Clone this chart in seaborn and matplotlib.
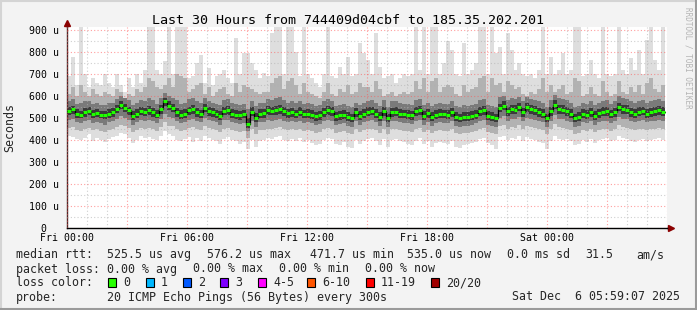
import numpy as np
import pandas as pd
import matplotlib
matplotlib.use("Agg")
import matplotlib.pyplot as plt
import seaborn as sns
from matplotlib.patches import Rectangle
from matplotlib.lines import Line2D
from matplotlib.ticker import MultipleLocator, FuncFormatter

# ---------------- data (microseconds) ----------------
median = [
    530, 540, 520, 515, 525, 530, 518, 522, 515, 512, 520, 525, 540, 560, 545, 535, 510, 520, 530, 528, 535, 525, 515, 540, 576,
    555, 545, 525, 515, 520, 535, 540, 525, 520, 545, 530, 525, 520, 510, 532, 535, 520, 515, 512, 518, 472, 528, 500, 520, 522,
    535, 530, 535, 540, 530, 522, 525, 520, 528, 518, 520, 515, 508, 512, 525, 535, 530, 508, 512, 515, 505, 500, 525, 510, 520,
    528, 532, 520, 505, 530, 500, 525, 528, 520, 518, 515, 512, 530, 536, 510, 522, 505, 515, 520, 518, 515, 525, 505, 500, 505,
    505, 510, 515, 530, 535, 510, 505, 500, 545, 555, 530, 540, 538, 550, 525, 548, 540, 535, 525, 520, 500, 530, 560, 540, 538,
    530, 520, 500, 505, 520, 515, 525, 510, 522, 528, 530, 518, 525, 552, 540, 538, 525, 520, 528, 532, 520, 525, 530, 535, 528,
]
ping_max = [
    690, 777, 650, 913, 700, 640, 682, 660, 650, 700, 660, 640, 700, 650, 620, 680, 640, 700, 660, 720, 913, 913, 718, 700, 760,
    913, 700, 913, 913, 913, 680, 690, 750, 786, 660, 727, 650, 690, 700, 718, 680, 660, 863, 700, 795, 795, 750, 720, 680, 705,
    690, 886, 913, 913, 700, 913, 913, 800, 690, 913, 700, 680, 660, 640, 700, 913, 690, 680, 732, 700, 777, 690, 700, 840, 795,
    764, 700, 886, 732, 680, 690, 700, 660, 680, 700, 690, 700, 913, 720, 913, 700, 913, 913, 700, 750, 850, 809, 700, 690, 840,
    700, 720, 750, 913, 913, 700, 913, 795, 823, 700, 886, 809, 720, 750, 700, 690, 700, 680, 720, 913, 700, 777, 700, 720, 795,
    700, 720, 913, 913, 690, 700, 764, 700, 680, 913, 700, 690, 700, 913, 720, 700, 773, 720, 809, 700, 855, 913, 764, 720, 913,
]
ping_p90 = [
    610, 640, 600, 650, 620, 600, 630, 610, 600, 620, 610, 600, 630, 620, 590, 610, 600, 630, 620, 640, 680, 670, 640, 630, 650,
    680, 640, 700, 690, 680, 620, 630, 650, 660, 610, 640, 600, 620, 630, 640, 610, 600, 660, 620, 650, 640, 630, 620, 610, 620,
    620, 660, 680, 690, 630, 670, 680, 650, 610, 660, 620, 610, 600, 590, 620, 660, 610, 600, 630, 620, 650, 610, 620, 660, 640,
    640, 620, 670, 630, 600, 610, 620, 600, 610, 620, 610, 620, 670, 630, 680, 620, 670, 680, 620, 640, 650, 640, 610, 600, 650,
    620, 630, 640, 680, 690, 620, 680, 650, 660, 620, 670, 650, 630, 640, 610, 600, 620, 610, 630, 680, 620, 650, 620, 630, 650,
    610, 620, 680, 670, 600, 610, 640, 610, 600, 670, 620, 600, 610, 670, 620, 610, 640, 620, 650, 610, 660, 680, 630, 620, 650,
]
ping_p75 = [
    575, 585, 565, 570, 575, 575, 565, 570, 560, 560, 570, 570, 585, 600, 590, 580, 560, 570, 580, 575, 590, 580, 565, 590, 615,
    600, 590, 580, 565, 570, 585, 590, 575, 570, 590, 575, 570, 565, 560, 580, 585, 570, 565, 560, 565, 540, 575, 555, 570, 570,
    585, 580, 590, 595, 580, 570, 575, 570, 575, 565, 570, 565, 555, 560, 575, 585, 575, 555, 560, 565, 555, 550, 570, 560, 570,
    575, 580, 570, 555, 580, 550, 575, 575, 570, 565, 565, 560, 580, 585, 560, 570, 555, 565, 570, 565, 565, 575, 555, 550, 560,
    555, 560, 565, 580, 585, 560, 555, 550, 595, 600, 580, 590, 585, 595, 575, 595, 585, 580, 575, 570, 550, 580, 605, 590, 585,
    580, 570, 550, 555, 570, 565, 575, 560, 570, 575, 580, 565, 575, 600, 590, 585, 575, 570, 575, 580, 570, 575, 580, 585, 575,
]
ping_p60 = [
    548, 555, 540, 532, 545, 548, 535, 540, 532, 530, 540, 545, 558, 578, 565, 552, 530, 540, 548, 545, 555, 545, 535, 560, 590,
    575, 562, 545, 535, 540, 552, 558, 545, 538, 562, 550, 545, 538, 530, 550, 555, 540, 535, 530, 538, 500, 548, 522, 540, 540,
    555, 550, 555, 560, 550, 540, 545, 538, 548, 538, 540, 535, 528, 530, 545, 555, 548, 528, 532, 535, 525, 520, 545, 530, 540,
    548, 552, 540, 525, 550, 520, 545, 548, 540, 538, 535, 532, 550, 555, 530, 542, 525, 535, 540, 538, 535, 545, 525, 520, 525,
    525, 530, 535, 550, 555, 530, 525, 520, 565, 575, 550, 560, 558, 570, 545, 568, 560, 555, 545, 540, 520, 550, 580, 560, 558,
    550, 540, 520, 525, 540, 535, 545, 530, 542, 548, 550, 538, 545, 570, 560, 558, 545, 540, 548, 552, 540, 545, 550, 555, 548,
]
ping_p40 = [
    512, 520, 502, 498, 505, 512, 500, 505, 498, 495, 502, 505, 522, 540, 525, 515, 492, 500, 512, 508, 515, 505, 498, 520, 555,
    535, 525, 505, 495, 500, 515, 520, 505, 500, 525, 510, 505, 500, 490, 512, 515, 500, 495, 492, 498, 455, 508, 482, 500, 502,
    515, 512, 515, 520, 510, 502, 505, 500, 508, 498, 500, 495, 488, 492, 505, 515, 510, 488, 492, 495, 485, 480, 505, 490, 500,
    508, 512, 500, 485, 510, 480, 505, 508, 500, 498, 495, 492, 510, 515, 490, 502, 485, 495, 500, 498, 495, 505, 485, 480, 485,
    485, 490, 495, 510, 515, 490, 485, 480, 525, 535, 510, 520, 518, 530, 505, 528, 520, 515, 505, 500, 480, 510, 540, 520, 518,
    510, 500, 480, 485, 500, 495, 505, 490, 502, 508, 510, 498, 505, 532, 520, 518, 505, 500, 508, 512, 500, 505, 510, 515, 508,
]
ping_p25 = [
    490, 495, 480, 475, 485, 490, 478, 482, 475, 470, 480, 485, 495, 510, 500, 490, 470, 480, 490, 488, 490, 485, 475, 495, 520,
    505, 500, 485, 475, 480, 490, 495, 485, 480, 500, 490, 485, 480, 470, 490, 492, 480, 475, 472, 478, 440, 485, 460, 480, 482,
    490, 488, 492, 495, 488, 482, 485, 480, 486, 478, 480, 475, 468, 472, 485, 492, 488, 468, 472, 475, 465, 460, 485, 470, 480,
    486, 490, 480, 465, 488, 460, 485, 486, 480, 478, 475, 472, 488, 492, 470, 482, 465, 475, 480, 478, 475, 485, 465, 460, 465,
    465, 470, 475, 488, 492, 470, 465, 460, 500, 508, 488, 496, 494, 505, 485, 502, 496, 492, 485, 480, 460, 488, 512, 496, 494,
    488, 480, 460, 465, 480, 475, 485, 470, 482, 486, 488, 478, 485, 505, 496, 494, 485, 480, 486, 490, 480, 485, 488, 492, 486,
]
ping_p10 = [
    455, 460, 445, 440, 450, 455, 445, 450, 440, 435, 445, 450, 460, 470, 462, 455, 438, 445, 455, 452, 455, 450, 440, 460, 480,
    465, 462, 448, 440, 445, 455, 458, 450, 445, 462, 455, 450, 445, 435, 452, 455, 445, 440, 436, 442, 410, 448, 425, 445, 446,
    452, 450, 455, 458, 450, 445, 448, 444, 450, 442, 445, 440, 432, 436, 448, 455, 450, 432, 436, 440, 430, 425, 448, 435, 445,
    450, 452, 445, 430, 450, 425, 448, 450, 445, 442, 440, 436, 450, 455, 435, 446, 430, 440, 445, 442, 440, 448, 430, 425, 430,
    430, 435, 440, 452, 455, 435, 430, 425, 462, 470, 452, 460, 456, 466, 448, 464, 458, 455, 448, 445, 425, 452, 472, 458, 456,
    452, 445, 425, 430, 445, 440, 448, 435, 446, 450, 452, 442, 448, 466, 458, 456, 448, 445, 450, 452, 445, 448, 452, 455, 450,
]
ping_min = [
    420, 415, 405, 400, 410, 425, 395, 410, 400, 390, 405, 415, 420, 430, 425, 410, 385, 400, 420, 410, 415, 405, 400, 420, 440,
    425, 420, 400, 395, 405, 415, 390, 410, 395, 420, 410, 400, 395, 380, 405, 415, 400, 395, 380, 390, 360, 400, 370, 395, 400,
    410, 405, 415, 420, 400, 395, 405, 395, 410, 390, 400, 385, 375, 380, 400, 410, 405, 380, 375, 390, 370, 365, 400, 380, 395,
    405, 410, 395, 375, 405, 370, 400, 405, 395, 390, 380, 375, 395, 410, 380, 395, 370, 385, 390, 385, 380, 395, 370, 365, 375,
    380, 385, 390, 405, 410, 385, 375, 360, 415, 420, 400, 410, 405, 420, 395, 415, 405, 400, 390, 385, 360, 395, 420, 405, 400,
    405, 395, 375, 380, 400, 390, 405, 385, 400, 405, 410, 395, 400, 420, 410, 405, 395, 390, 400, 405, 395, 400, 405, 410, 400,
]

x_label_hours = [0, 6, 12, 18, 24]
x_labels = ["Fri 00:00", "Fri 06:00", "Fri 12:00", "Fri 18:00", "Sat 00:00"]
y_tick_values = [0, 100, 200, 300, 400, 500, 600, 700, 800, 900]
y_tick_labels = ["0  ", "100 u", "200 u", "300 u", "400 u", "500 u", "600 u", "700 u", "800 u", "900 u"]

title = "Last 30 Hours from 744409d04cbf to 185.35.202.201"
legend_row1 = [(16, "median rtt:"), (107, "525.5 us avg"), (207, "576.2 us max"),
               (310, "471.7 us min"), (407, "535.0 us now"), (507, "0.0 ms sd"),
               (585, "31.5"), (636, "am/s")]
legend_row2 = [(16, "packet loss:"), (107, "0.00 % avg"), (193, "0.00 % max"),
               (279, "0.00 % min"), (365, "0.00 % now")]
loss_labels = ["0", "1", "2", "3", "4-5", "6-10", "11-19", "20/20"]
loss_colors = ["#26ff00", "#00b8ff", "#0059ff", "#7e00ff", "#ff00ff", "#ff5500", "#ff0000", "#a10000"]
loss_box_x = [108, 146, 183, 220, 258, 307, 366, 431]
probe_text = "20 ICMP Echo Pings (56 Bytes) every 300s"
stamp_text = "Sat Dec  6 05:59:07 2025"

# ---------------- figure ----------------
sns.set_theme(style="white")
plt.rcParams["font.family"] = ["DejaVu Sans Mono", "DejaVu Sans"]

W, H = 697, 310
def fx(x):
    return x / W
def fy(y):
    return 1 - y / H

fig = plt.figure(figsize=(W / 100, H / 100), dpi=100, facecolor="#f3f3f3")
ax = fig.add_axes([fx(67), fy(228), 600 / W, 201 / H])
ax.set_facecolor("white")

n = len(median)
dt = 29.9 / n
t = np.arange(n) * dt
te = np.append(t, n * dt)

def ext(a):
    a = np.asarray(a, float)
    return np.append(a, a[-1])

smoke = [(ping_min, ping_max, "#dedede"),
         (ping_p10, ping_p90, "#b2b2b2"),
         (ping_p25, ping_p75, "#7a7a7a"),
         (ping_p40, ping_p60, "#3a3a3a")]
for k, (lo, hi, col) in enumerate(smoke):
    ax.fill_between(te, ext(lo), ext(hi), step="post", color=col, lw=0, zorder=1 + 0.1 * k)

df = pd.DataFrame({"t": te, "rtt": ext(median)})
sns.lineplot(data=df, x="t", y="rtt", drawstyle="steps-post", color="black",
             lw=0.9, ax=ax, zorder=3, estimator=None)
ax.hlines(median, t, t + dt, color="#20ff00", lw=2.2, zorder=4)

ax.set_xlim(0, 30)
ax.set_ylim(0, 913.6)
ax.set_xlabel("")
ax.set_ylabel("")

lab = dict(zip(x_label_hours, x_labels))
ax.xaxis.set_major_locator(MultipleLocator(3))
ax.xaxis.set_minor_locator(MultipleLocator(1))
ax.xaxis.set_major_formatter(FuncFormatter(lambda v, p: lab.get(int(round(v)), "")))
ax.set_yticks(y_tick_values)
ax.set_yticklabels(y_tick_labels)
ax.yaxis.set_minor_locator(MultipleLocator(50))

ax.set_axisbelow(False)
ax.grid(which="major", color="#ff5050", alpha=0.55, ls=(0, (1, 2)), lw=0.8)
ax.grid(which="minor", color="#b0b0b0", alpha=0.6, ls=(0, (1, 2)), lw=0.8)
ax.tick_params(which="both", length=0, labelsize=7.1, colors="black")
ax.tick_params(axis="y", pad=5.5)
ax.tick_params(axis="x", pad=3.5)

for s in ["top", "right"]:
    ax.spines[s].set_visible(False)
ax.spines["left"].set_color("#4a2a2a")
ax.spines["bottom"].set_color("black")
ax.spines["left"].set_linewidth(1)
ax.spines["bottom"].set_linewidth(1)

# axis extensions + arrows
ax.plot([0, 0], [1, 1.02], transform=ax.transAxes, color="#4a2a2a", lw=1, clip_on=False)
ax.plot([1, 1.006], [0, 0], transform=ax.transAxes, color="black", lw=1, clip_on=False)
ax.plot([0], [1.02], transform=ax.transAxes, marker="^", color="#8b0000", ms=4.3, clip_on=False)
ax.plot([1.006], [0], transform=ax.transAxes, marker=">", color="#8b0000", ms=4.3, clip_on=False)

# texts
fig.text(fx(348.5), fy(23.5), title, ha="center", va="baseline", fontsize=9.6, color="black")
fig.text(fx(10), fy(128), "Seconds", rotation=90, ha="center", va="center", fontsize=8.4)
fig.text(fx(688), fy(58), "RRDTOOL / TOBI OETIKER", rotation=270, ha="center", va="center",
         fontsize=5.5, color="#b4b4b4")

LF = 8.4
for x, s in legend_row1:
    fig.text(fx(x), fy(258), s, ha="left", va="baseline", fontsize=LF)
for x, s in legend_row2:
    fig.text(fx(x), fy(272.5), s, ha="left", va="baseline", fontsize=LF)
fig.text(fx(16), fy(286.5), "loss color:", ha="left", va="baseline", fontsize=LF)
for bx, c, s in zip(loss_box_x, loss_colors, loss_labels):
    fig.patches.append(Rectangle((fx(bx), fy(286.5)), 8 / W, 9 / H, transform=fig.transFigure,
                                 facecolor=c, edgecolor="black", lw=0.8))
    fig.text(fx(bx + 15), fy(286.5), s, ha="left", va="baseline", fontsize=LF)
fig.text(fx(16), fy(300.5), "probe:", ha="left", va="baseline", fontsize=LF)
fig.text(fx(107), fy(300.5), probe_text, ha="left", va="baseline", fontsize=LF)
fig.text(fx(680), fy(300.5), stamp_text, ha="right", va="baseline", fontsize=LF)

# frame
fig.lines.append(Line2D([0, 1], [1 - 1 / H, 1 - 1 / H], transform=fig.transFigure, color="#d4d4d4", lw=1.5))
fig.lines.append(Line2D([1 / W, 1 / W], [0, 1], transform=fig.transFigure, color="#d4d4d4", lw=1.5))
fig.lines.append(Line2D([0, 1], [1 / H, 1 / H], transform=fig.transFigure, color="#9a9a9a", lw=1.5))
fig.lines.append(Line2D([1 - 1 / W, 1 - 1 / W], [0, 1], transform=fig.transFigure, color="#9a9a9a", lw=1.5))

fig.savefig("out.png", dpi=100, facecolor=fig.get_facecolor())
